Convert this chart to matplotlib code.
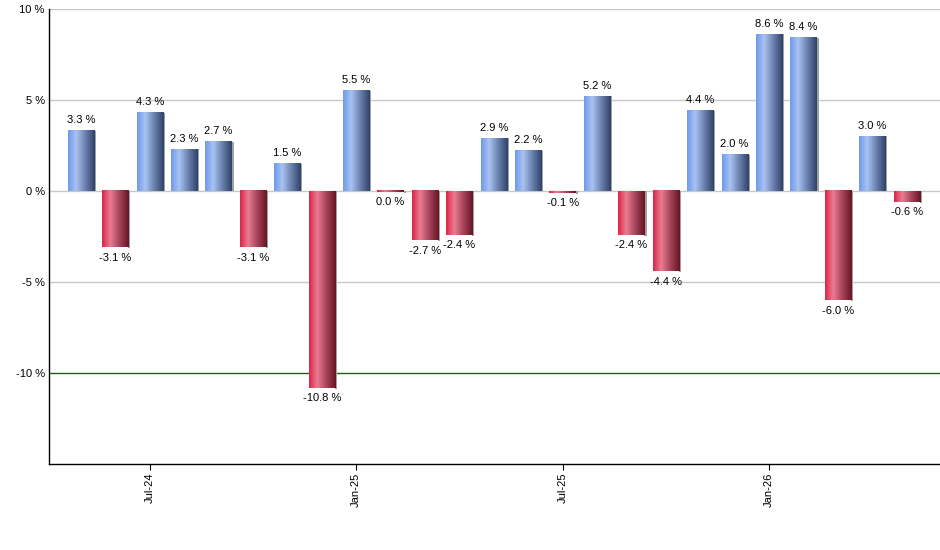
import numpy as np
import matplotlib
matplotlib.use('Agg')
from matplotlib import pyplot as plt
from matplotlib.colors import LinearSegmentedColormap

# monthly returns, May-24 .. May-26
months = ['May-24', 'Jun-24', 'Jul-24', 'Aug-24', 'Sep-24', 'Oct-24', 'Nov-24', 'Dec-24',
          'Jan-25', 'Feb-25', 'Mar-25', 'Apr-25', 'May-25', 'Jun-25', 'Jul-25', 'Aug-25',
          'Sep-25', 'Oct-25', 'Nov-25', 'Dec-25', 'Jan-26', 'Feb-26', 'Mar-26', 'Apr-26', 'May-26']
values = [3.3, -3.1, 4.3, 2.3, 2.7, -3.1, 1.5, -10.8, 5.5, -0.04, -2.7, -2.4, 2.9, 2.2,
          -0.1, 5.2, -2.4, -4.4, 4.4, 2.0, 8.6, 8.4, -6.0, 3.0, -0.6]
labels = ['3.3 %', '-3.1 %', '4.3 %', '2.3 %', '2.7 %', '-3.1 %', '1.5 %', '-10.8 %', '5.5 %',
          '0.0 %', '-2.7 %', '-2.4 %', '2.9 %', '2.2 %', '-0.1 %', '5.2 %', '-2.4 %', '-4.4 %',
          '4.4 %', '2.0 %', '8.6 %', '8.4 %', '-6.0 %', '3.0 %', '-0.6 %']
tick_months = ['Jul-24', 'Jan-25', 'Jul-25', 'Jan-26']
yticks = [-10, -5, 0, 5, 10]

blue_cmap = LinearSegmentedColormap.from_list(
    'blue', [(0, '#6f9aea'), (0.3, '#a9c3f3'), (0.65, '#6a80ad'), (1, '#2f4369')])
red_cmap = LinearSegmentedColormap.from_list(
    'red', [(0, '#dc2448'), (0.3, '#e97d92'), (0.65, '#a5445a'), (1, '#681423')])
grad = np.linspace(0, 1, 64).reshape(1, -1)

fig = plt.figure(figsize=(9.4, 5.5), dpi=100)
ax = fig.add_axes([0.052, 0.156, 0.948, 0.828])

x = np.arange(len(values))
bars = ax.bar(x, values, width=0.76, color='none', edgecolor='none', zorder=3)

for b, v in zip(bars, values):
    bx, by = b.get_x(), b.get_y()
    w, h = b.get_width(), b.get_height()
    y0, y1 = min(by, by + h), max(by, by + h)
    if abs(y1 - y0) < 0.08:
        y1 = y0 + 0.08 if v >= 0 else y1
        y0 = y1 - 0.08
    # small grey shadow on right side
    ax.fill_between([bx + w, bx + w + 0.06], y0 - 0.05 if v < 0 else y0, y1,
                    color='#a0a0a0', lw=0, zorder=2)
    cmap = blue_cmap if v >= 0 else red_cmap
    ax.imshow(grad, cmap=cmap, aspect='auto', extent=(bx, bx + w, y0, y1),
              interpolation='bicubic', zorder=3)

for xi, v, lab in zip(x, values, labels):
    if v >= 0:
        ax.annotate(lab, (xi, v), xytext=(0, 4), textcoords='offset points',
                    ha='center', va='bottom', fontsize=8, family='Liberation Sans')
    else:
        ax.annotate(lab, (xi, v), xytext=(0, -4), textcoords='offset points',
                    ha='center', va='top', fontsize=8, family='Liberation Sans')

for yv in yticks:
    if yv == -10:
        ax.axhline(yv, color='#176417', lw=1, zorder=1)
    else:
        ax.axhline(yv, color='#c8c8c8', lw=1, zorder=1)

ax.set_xlim(-0.93, 24.97)
ax.set_ylim(-15, 10)
ax.set_yticks(yticks)
ax.set_yticklabels([f'{t} %' for t in yticks], fontsize=8, family='Liberation Sans')
ax.set_xticks([months.index(m) for m in tick_months])
ax.set_xticklabels(tick_months, rotation=90, fontsize=8, family='Liberation Sans')
ax.tick_params(axis='y', length=0, pad=3)
ax.tick_params(axis='x', length=4, direction='out', pad=2)

for s in ['top', 'right']:
    ax.spines[s].set_visible(False)
ax.spines['left'].set_linewidth(1)
ax.spines['bottom'].set_linewidth(1)

plt.savefig('out.png', dpi=100)
plt.close()
